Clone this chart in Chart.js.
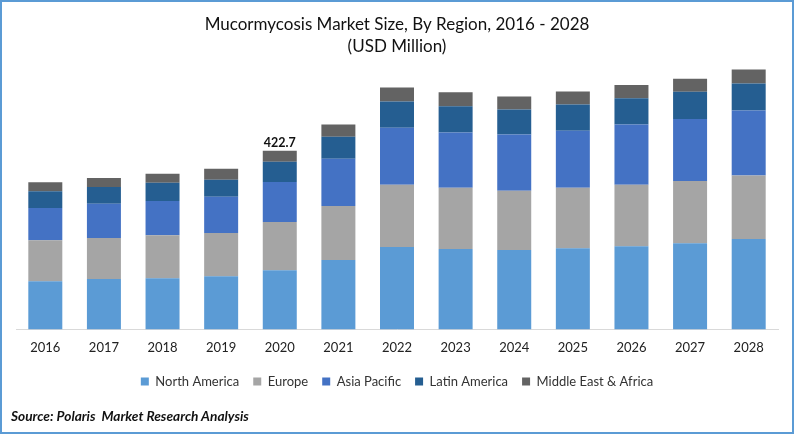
<!DOCTYPE html>
<html>
<head>
<meta charset="utf-8">
<script src="https://cdn.jsdelivr.net/npm/chart.js@4"></script>
<style>
  html, body { margin: 0; padding: 0; background: #fff; }
  #frame { position: relative; width: 794px; height: 434px; box-sizing: border-box; overflow: hidden; }
  #frame:after { content: ""; position: absolute; left: 0; top: 0; right: 0; bottom: 0; border: 2.5px solid #5b9bd5; box-sizing: border-box; pointer-events: none; }
  canvas { position: absolute; left: 0; top: 0; }
  #source { position: absolute; left: 11px; top: 407px; font: italic bold 13.7px Lato, sans-serif; color: #111; white-space: pre; }
</style>
</head>
<body>
<div id="frame">
  <canvas id="marketChart" width="794" height="434"></canvas>
  <div id="source">Source: Polaris  Market Research Analysis</div>
</div>
<script>
const years = ["2016","2017","2018","2019","2020","2021","2022","2023","2024","2025","2026","2027","2028"];
const northAmerica = [114,119,121,126,140,164,195,190,188,192,197,204,214];
const europe = [97,97,102,102,114,128,147,145,140,143,145,147,150];
const asiaPacific = [76,81,81,86,95,112,135,131,133,135,143,147,154];
const latinAmerica = [40,40,43,40,47.5,52,62,62,59,62,62,64,64];
const middleEast = [21,21,21,26,26.2,29,33,33,31,31,31,31,33];
const totalLabels = ["","","","","422.7","","","","","","","",""]; //only 2020 has a label

const fontName = "Lato, sans-serif";

//writes the total above the top bar
const totalsPlugin = {
  id: "totals",
  afterDatasetsDraw(chart) {
    const ctx = chart.ctx;
    const top = chart.getDatasetMeta(4).data;
    ctx.save();
    ctx.font = "bold 12.5px " + fontName;
    ctx.fillStyle = "#111";
    ctx.textAlign = "center";
    ctx.textBaseline = "bottom";
    totalLabels.forEach(function(txt, i) {
      if(txt) ctx.fillText(txt, top[i].x, top[i].y - 2);
    });
    ctx.restore();
  }
};

function series(name, values, color) {
  return { label: name, data: values, backgroundColor: color, barPercentage: 0.58, categoryPercentage: 1 };
}

new Chart("marketChart", {
  type: "bar",
  data: {
    labels: years,
    datasets: [
      series("North America", northAmerica, "#5b9bd5"),
      series("Europe", europe, "#a5a5a5"),
      series("Asia Pacific", asiaPacific, "#4472c4"),
      series("Latin America", latinAmerica, "#255e91"),
      series("Middle East & Africa", middleEast, "#636363")
    ]
  },
  options: {
    responsive: false,
    animation: false,
    layout: { padding: { left: 16, right: 16, top: 14, bottom: 36 } },
    plugins: {
      title: {
        display: true,
        text: ["Mucormycosis Market Size, By Region, 2016 - 2028", "(USD Million)"],
        color: "#111",
        font: { family: fontName, size: 17, weight: "normal", lineHeight: 1.27 },
        padding: { top: 0, bottom: 0 }
      },
      legend: {
        position: "bottom",
        labels: {
          boxWidth: 8, boxHeight: 8, padding: 14, color: "#333",
          font: { family: fontName, size: 13 }
        }
      },
      tooltip: { enabled: false }
    },
    scales: {
      x: {
        stacked: true,
        grid: { display: false },
        border: { color: "#d9d9d9", width: 1 },
        ticks: { color: "#222", font: { family: fontName, size: 13 }, padding: 3 },
        afterFit(scale) { scale.height += 2; } //keeps the baseline where the legend gap needs it
      },
      y: { stacked: true, display: false, min: 0, max: 644 }
    }
  },
  plugins: [totalsPlugin]
});
</script>
</body>
</html>
